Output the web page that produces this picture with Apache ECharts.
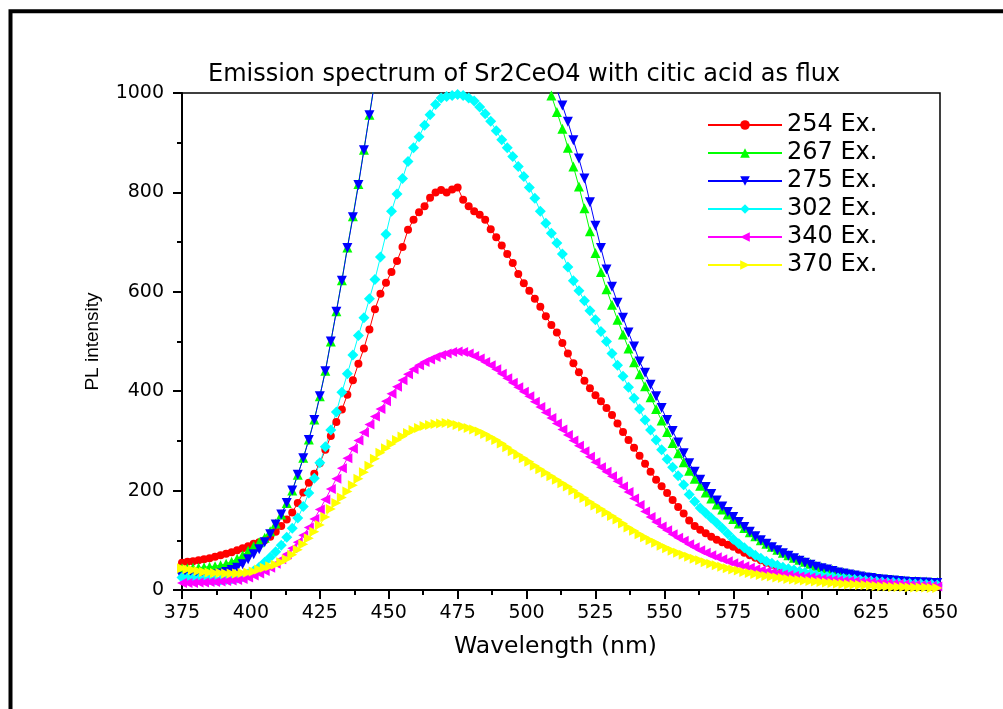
<!DOCTYPE html>
<html>
<head>
<meta charset="utf-8">
<title>Emission spectrum</title>
<script src="https://cdn.jsdelivr.net/npm/echarts@6/dist/echarts.min.js"></script>
<style>
  html, body { margin: 0; padding: 0; background: #fff; }
  #chart { width: 1003px; height: 709px; }
</style>
</head>
<body>
<div id="chart"></div>
<script>
// wavelength (nm), one point every 2 nm
const wavelength = [
  375, 377, 379, 381, 383, 385, 387, 389, 391, 393,
  395, 397, 399, 401, 403, 405, 407, 409, 411, 413,
  415, 417, 419, 421, 423, 425, 427, 429, 431, 433,
  435, 437, 439, 441, 443, 445, 447, 449, 451, 453,
  455, 457, 459, 461, 463, 465, 467, 469, 471, 473,
  475, 477, 479, 481, 483, 485, 487, 489, 491, 493,
  495, 497, 499, 501, 503, 505, 507, 509, 511, 513,
  515, 517, 519, 521, 523, 525, 527, 529, 531, 533,
  535, 537, 539, 541, 543, 545, 547, 549, 551, 553,
  555, 557, 559, 561, 563, 565, 567, 569, 571, 573,
  575, 577, 579, 581, 583, 585, 587, 589, 591, 593,
  595, 597, 599, 601, 603, 605, 607, 609, 611, 613,
  615, 617, 619, 621, 623, 625, 627, 629, 631, 633,
  635, 637, 639, 641, 643, 645, 647, 649,
];

const ex254 = [
  55, 57, 58, 60, 62, 64, 67, 70, 73, 76,
  80, 84, 88, 93, 96, 100, 107, 117, 129, 142,
  156, 175, 196, 216, 234, 255, 282, 310, 338, 363,
  393, 422, 455, 486, 524, 565, 596, 618, 640, 662,
  690, 725, 745, 760, 772, 789, 800, 805, 800, 806,
  810, 785, 772, 762, 755, 745, 726, 710, 693, 676,
  658, 636, 617, 602, 586, 570, 551, 533, 518, 497,
  476, 456, 438, 421, 406, 392, 380, 366, 352, 335,
  318, 302, 286, 270, 254, 238, 222, 209, 195, 181,
  167, 154, 140, 129, 121, 114, 107, 101, 96, 91,
  87, 81, 75, 70, 65, 60, 55, 51, 47, 44,
  40, 37, 34, 32, 29, 27, 25, 22, 20, 19,
  18, 17, 16, 15, 14, 13, 12, 12, 11, 10,
  10, 9, 9, 8, 8, 8, 7, 7,
];

const ex267 = [
  44, 44, 45, 45, 46, 47, 48, 50, 53, 57,
  63, 70, 79, 88, 96, 105, 118, 134, 152, 175,
  200, 232, 266, 303, 343, 390, 441, 500, 561, 623,
  689, 752, 817, 886, 956, 1026, 1100, 1170, 1235, 1295,
  1345, 1385, 1415, 1436, 1448, 1454, 1455, 1452, 1446, 1436,
  1424, 1409, 1392, 1373, 1352, 1330, 1307, 1283, 1258, 1232,
  1205, 1178, 1150, 1120, 1085, 1055, 1025, 995, 962, 928,
  890, 852, 812, 768, 722, 678, 640, 605, 574, 544,
  514, 486, 458, 434, 410, 388, 364, 341, 318, 296,
  275, 257, 240, 224, 210, 196, 184, 172, 162, 152,
  143, 134, 125, 116, 108, 100, 93, 87, 81, 75,
  70, 65, 61, 57, 53, 49, 46, 43, 40, 37,
  35, 33, 31, 29, 27, 26, 24, 23, 22, 21,
  20, 19, 18, 18, 17, 17, 16, 16,
];

const ex275 = [
  26, 27, 27, 28, 29, 30, 31, 33, 36, 40,
  45, 52, 62, 72, 82, 96, 112, 132, 152, 175,
  200, 232, 265, 302, 342, 390, 440, 500, 560, 622,
  688, 750, 815, 885, 955, 1025, 1095, 1165, 1230, 1290,
  1338, 1378, 1410, 1434, 1452, 1464, 1470, 1471, 1468, 1462,
  1453, 1441, 1427, 1410, 1391, 1370, 1347, 1323, 1298, 1272,
  1246, 1220, 1195, 1170, 1130, 1095, 1065, 1035, 1007, 975,
  942, 905, 868, 828, 780, 733, 688, 645, 610, 578,
  548, 518, 490, 460, 437, 413, 390, 366, 342, 320,
  297, 275, 255, 238, 222, 207, 193, 180, 168, 157,
  147, 137, 127, 117, 108, 100, 93, 86, 80, 74,
  69, 64, 59, 55, 51, 47, 44, 41, 38, 35,
  33, 31, 29, 27, 25, 24, 22, 21, 20, 19,
  18, 17, 16, 16, 15, 15, 14, 14,
];

const ex302 = [
  25, 24, 23, 22, 21, 21, 20, 20, 21, 22,
  24, 27, 32, 38, 46, 56, 66, 77, 90, 106,
  124, 145, 168, 195, 225, 256, 288, 322, 358, 398,
  435, 473, 512, 548, 586, 625, 670, 716, 762, 797,
  828, 862, 890, 912, 935, 956, 977, 990, 993, 995,
  997, 995, 990, 984, 972, 958, 943, 924, 906, 890,
  872, 852, 832, 810, 788, 762, 738, 718, 698, 676,
  650, 622, 602, 582, 562, 544, 520, 500, 476, 452,
  430, 408, 386, 364, 342, 322, 302, 282, 263, 247,
  230, 212, 192, 178, 165, 155, 145, 135, 124, 113,
  102, 93, 85, 77, 70, 64, 58, 54, 50, 46,
  43, 40, 37, 35, 33, 30, 28, 27, 26, 24,
  23, 22, 21, 20, 19, 18, 17, 16, 15, 15,
  14, 13, 13, 12, 12, 11, 11, 10,
];

const ex340 = [
  14, 14, 14, 15, 15, 16, 16, 17, 18, 19,
  20, 22, 25, 29, 33, 38, 45, 53, 62, 72,
  84, 96, 110, 126, 143, 162, 182, 203, 224, 245,
  265, 284, 301, 317, 333, 349, 364, 380, 395, 409,
  422, 434, 444, 452, 459, 464, 469, 473, 476, 479,
  480, 479, 476, 471, 466, 459, 452, 444, 435, 426,
  417, 408, 399, 390, 379, 368, 357, 346, 335, 323,
  312, 301, 290, 279, 268, 257, 247, 238, 229, 219,
  208, 197, 184, 171, 158, 147, 137, 128, 120, 112,
  105, 99, 92, 86, 80, 75, 70, 66, 62, 58,
  54, 51, 48, 45, 42, 39, 37, 35, 33, 31,
  30, 28, 27, 26, 25, 23, 22, 21, 20, 19,
  18, 18, 17, 16, 16, 15, 14, 14, 13, 12,
  12, 11, 10, 10, 9, 9, 8, 7,
];

const ex370 = [
  44, 42, 40, 38, 36, 35, 34, 34, 33, 33,
  33, 34, 35, 37, 41, 45, 48, 51, 56, 62,
  71, 81, 92, 104, 117, 131, 147, 163, 175, 186,
  198, 211, 224, 237, 250, 264, 276, 285, 294, 302,
  309, 316, 322, 326, 330, 332, 334, 335, 336, 335,
  332, 329, 326, 323, 319, 314, 308, 302, 295, 287,
  279, 272, 265, 258, 250, 243, 236, 229, 222, 215,
  208, 200, 192, 185, 177, 170, 163, 156, 149, 142,
  134, 126, 119, 112, 106, 100, 95, 89, 84, 79,
  75, 71, 67, 63, 60, 56, 53, 50, 47, 44,
  41, 39, 36, 34, 32, 30, 28, 27, 25, 24,
  22, 21, 20, 19, 18, 17, 16, 15, 14, 13,
  12, 11, 11, 10, 10, 9, 8, 7, 7, 6,
  6, 6, 5, 5, 5, 5, 4, 4,
];

const seriesInfo = [
  { name: '254 Ex.', values: ex254, color: '#ff0000', symbol: 'circle', size: 8, rotate: 0 },
  { name: '267 Ex.', values: ex267, color: '#00ff00', symbol: 'triangle', size: 10, rotate: 0 },
  { name: '275 Ex.', values: ex275, color: '#0000ff', symbol: 'triangle', size: 10, rotate: 180 },
  { name: '302 Ex.', values: ex302, color: '#00ffff', symbol: 'diamond', size: 11, rotate: 0 },
  { name: '340 Ex.', values: ex340, color: '#ff00ff', symbol: 'triangle', size: 10, rotate: 90 },
  { name: '370 Ex.', values: ex370, color: '#ffff00', symbol: 'triangle', size: 10, rotate: -90 },
];

const textFont = 'DejaVu Sans';

const chart = echarts.init(document.getElementById('chart'), null, { renderer: 'canvas' });

const option = {
  animation: false,
  backgroundColor: '#fff',
  title: {
    text: 'Emission spectrum of Sr2CeO4 with citic acid as flux',
    left: 203,
    top: 58,
    textStyle: { fontFamily: textFont, fontSize: 24, fontWeight: 'normal', color: '#000' },
  },
  legend: {
    orient: 'vertical',
    left: 707,
    top: 113,
    padding: 0,
    itemWidth: 74,
    itemHeight: 12,
    itemGap: 4,
    textStyle: { fontFamily: textFont, fontSize: 24, color: '#000' },
    data: seriesInfo.map((s) => s.name),
  },
  grid: {
    left: 182,
    right: 63,
    top: 93,
    bottom: 119,
    show: true,
    borderColor: '#000',
    borderWidth: 1.5,
    backgroundColor: 'transparent',
  },
  xAxis: {
    type: 'value',
    min: 375,
    max: 650,
    interval: 25,
    name: 'Wavelength (nm)',
    nameLocation: 'middle',
    nameGap: 45,
    nameTextStyle: { fontFamily: textFont, fontSize: 23.5, color: '#000', padding: [0, 11, 0, 0] },
    axisLine: { show: true, onZero: false, lineStyle: { color: '#000', width: 2 } },
    axisTick: { show: true, inside: false, length: 9, lineStyle: { color: '#000', width: 2 } },
    minorTick: { show: true, splitNumber: 2, length: 5, lineStyle: { color: '#000', width: 2 } },
    axisLabel: { fontFamily: textFont, fontSize: 19, color: '#000', margin: 14 },
    splitLine: { show: false },
  },
  yAxis: {
    type: 'value',
    min: 0,
    max: 1000,
    interval: 200,
    name: 'PL intensity',
    nameLocation: 'middle',
    nameGap: 80,
    nameTextStyle: { fontFamily: 'Liberation Sans', fontSize: 19, color: '#000' },
    axisLine: { show: true, lineStyle: { color: '#000', width: 2 } },
    axisTick: { show: true, inside: false, length: 9, lineStyle: { color: '#000', width: 2 } },
    minorTick: { show: true, splitNumber: 2, length: 5, lineStyle: { color: '#000', width: 2 } },
    axisLabel: {
      fontFamily: textFont,
      fontSize: 19,
      color: '#000',
      margin: 18,
      formatter: (v) => String(v),
    },
    splitLine: { show: false },
  },
  graphic: [
    {
      type: 'rect',
      shape: { x: 10.5, y: 11.3, width: 1100, height: 800 },
      style: { fill: 'none', stroke: '#000', lineWidth: 4 },
      silent: true,
    },
  ],
  series: seriesInfo.map((s) => ({
    name: s.name,
    type: 'line',
    data: wavelength.map((w, i) => [w, s.values[i]]),
    symbol: s.symbol,
    symbolSize: s.size,
    symbolRotate: s.rotate,
    showAllSymbol: true,
    clip: true,
    lineStyle: { color: s.color, width: 1 },
    itemStyle: { color: s.color, borderWidth: 0 },
    emphasis: { disabled: true },
  })),
};

chart.setOption(option);
</script>
</body>
</html>
